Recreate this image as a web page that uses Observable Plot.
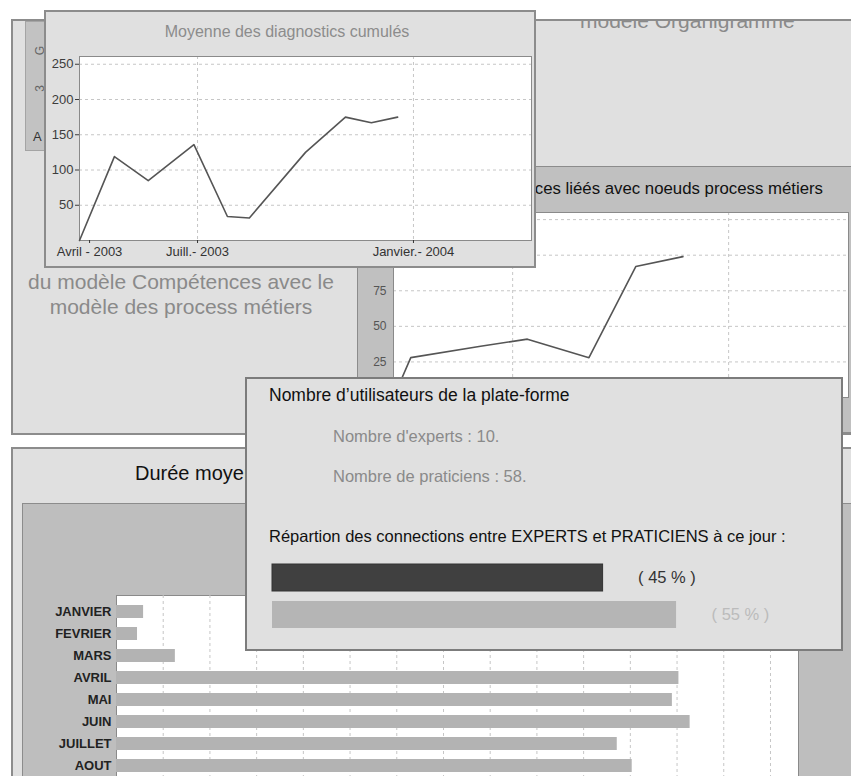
<!DOCTYPE html>
<html><head><meta charset="utf-8">
<script src="https://cdn.jsdelivr.net/npm/d3@7"></script>
<script src="https://cdn.jsdelivr.net/npm/@observablehq/plot@0.6"></script>
<style>
html,body{margin:0;padding:0;background:#fff;}
body{width:851px;height:776px;overflow:hidden;position:relative;font-family:"Liberation Sans",Arial,Helvetica,sans-serif;}
#root{position:absolute;left:0;top:0;width:851px;height:776px;overflow:hidden;}
</style></head><body><div id="root"></div>
<script>
// ---------- DATA ----------
// Moyenne des diagnostics cumulés (x = mois, 4 = avril 2003, 13 = janvier 2004)
const diagMois = [3.72, 4.69, 5.63, 6.90, 7.83, 8.44, 10.0, 11.11, 11.83, 12.56];
const diagMoyenne = [0, 119, 85, 136, 34, 32, 125, 175, 167, 175];
const diagYTicks = [50, 100, 150, 200, 250];
const diagXTicks = [4, 7, 13];
const diagXLabels = ["Avril - 2003", "Juill.- 2003", "Janvier.- 2004"];
const diagXGrid = [7, 13];

// Noeuds Compétences liés avec noeuds process métiers
const noeudsMois = [3.69, 4.17, 6.11, 7.41, 9.12, 10.42, 11.73];
const noeudsValeurs = [0, 28, 36, 41, 28, 92, 99];
const noeudsYGrid = [25, 50, 75, 100, 125];
const noeudsYLabels = [25, 50, 75];
const noeudsXGrid = [7, 13];

// Durée moyenne par mois
const dureeMois = ["JANVIER", "FEVRIER", "MARS", "AVRIL", "MAI", "JUIN", "JUILLET", "AOUT"];
const dureeValeurs = [2.9, 2.25, 6.3, 60.2, 59.5, 61.4, 53.6, 55.2];
const dureeTicks = [5, 10, 15, 20, 25, 30, 35, 40, 45, 50, 55, 60, 65, 70];

// Utilisateurs de la plate-forme
const nbExperts = 10;
const nbPraticiens = 58;
const repartCategories = ["EXPERTS", "PRATICIENS"];
const repartPourcent = [45, 55];

// ---------- HELPERS ----------
const FONT = '"Liberation Sans", Arial, Helvetica, sans-serif';
const root = {el: document.getElementById("root"), ox: 0, oy: 0};

function box(parent, x, y, w, h, o) {
  const el = document.createElement("div");
  const bw = o.bw || 0;
  Object.assign(el.style, {
    position: "absolute", left: (x - parent.ox) + "px", top: (y - parent.oy) + "px",
    width: w + "px", height: h + "px", boxSizing: "border-box",
    background: o.bg || "transparent", border: bw ? `${bw}px solid ${o.bc}` : "none",
    overflow: "hidden"
  });
  parent.el.appendChild(el);
  return {el, ox: x + bw, oy: y + bw};
}
function label(parent, str, x, yc, o) {
  const el = document.createElement("div");
  const size = o.size, lh = Math.round(size * 1.25);
  const s = el.style;
  s.position = "absolute"; s.whiteSpace = "nowrap";
  s.fontSize = size + "px"; s.lineHeight = lh + "px"; s.color = o.color;
  s.fontWeight = o.weight || "normal";
  s.top = (yc - lh / 2 - parent.oy) + "px";
  const anchor = o.anchor || "start";
  if (anchor === "start") { s.left = (x - parent.ox) + "px"; }
  else if (anchor === "end") { s.left = (x - parent.ox - 1000) + "px"; s.width = "1000px"; s.textAlign = "right"; }
  else { s.left = (x - parent.ox - 500) + "px"; s.width = "1000px"; s.textAlign = "center"; }
  if (o.rotate) { s.transform = `rotate(${o.rotate}deg)`; s.transformOrigin = "50% 50%"; }
  el.textContent = str;
  parent.el.appendChild(el);
  return el;
}
function place(parent, svg, x, y) {
  svg.style.position = "absolute";
  svg.style.left = (x - parent.ox) + "px";
  svg.style.top = (y - parent.oy) + "px";
  parent.el.appendChild(svg);
}
const baseStyle = {background: "transparent", fontFamily: FONT, fontSize: "13px", color: "#333", overflow: "visible", maxWidth: "none"};
const dash = {stroke: "#c6c6c6", strokeOpacity: 1, strokeDasharray: "3,3"};

// ---------- WINDOW A (background) ----------
const A = box(root, 11, 19, 900, 416, {bg: "#e0e0e0", bw: 2, bc: "#8c8c8c"});
const Apanel = box(A, 25, 21, 60, 130, {bg: "#c2c2c2", bw: 1, bc: "#a4a4a4"});
label(Apanel, "G", 40, 50, {size: 12, color: "#666", anchor: "middle", rotate: -90});
label(Apanel, "3", 40, 88, {size: 12, color: "#666", anchor: "middle", rotate: -90});
label(Apanel, "A", 33, 137, {size: 13, color: "#333"});
label(A, "modèle Organigramme", 580, 20.5, {size: 21, color: "#8a8a8a"});
label(A, "du modèle Compétences avec le", 181, 282, {size: 21, color: "#8a8a8a", anchor: "middle"});
label(A, "modèle des process métiers", 181, 307, {size: 21, color: "#8a8a8a", anchor: "middle"});

// ---------- WINDOW C (noeuds) ----------
const C = box(root, 357, 166, 520, 267, {bg: "#c0c0c0", bw: 1, bc: "#8c8c8c"});
label(C, "Noeuds Compétences liéés avec noeuds process métiers", 823, 188, {size: 16.8, color: "#111", anchor: "end"});
const noeuds = noeudsMois.map((m, i) => ({m, v: noeudsValeurs[i]}));
const chartC = Plot.plot({
  width: 493, height: 221, marginLeft: 35, marginRight: 3, marginTop: 0, marginBottom: 36,
  x: {domain: [3.69, 16.33], axis: null},
  y: {domain: [0, 130]},
  style: baseStyle,
  marks: [
    Plot.frame({fill: "white", stroke: "none"}),
    Plot.gridY(noeudsYGrid, dash),
    Plot.gridX(noeudsXGrid, dash),
    Plot.frame({stroke: "#8a8a8a"}),
    Plot.axisY(noeudsYLabels, {tickSize: 0, tickPadding: 7, fontSize: 12, color: "#555", label: null}),
    Plot.line(noeuds, {x: "m", y: "v", stroke: "#555", strokeWidth: 1.6})
  ]
});
place(C, chartC, 358, 212);

// ---------- WINDOW B (diagnostics) ----------
const B = box(root, 44, 10, 492, 258, {bg: "#e0e0e0", bw: 2, bc: "#8c8c8c"});
label(B, "Moyenne des diagnostics cumulés", 287, 32, {size: 16, color: "#8c8c8c", anchor: "middle"});
const diag = diagMois.map((m, i) => ({m, v: diagMoyenne[i]}));
const chartB = Plot.plot({
  width: 488, height: 226, marginLeft: 33, marginRight: 3, marginTop: 16, marginBottom: 26,
  x: {domain: [3.72, 16.28]},
  y: {domain: [0, 261]},
  style: baseStyle,
  marks: [
    Plot.frame({fill: "white", stroke: "none"}),
    Plot.gridY(diagYTicks, dash),
    Plot.gridX(diagXGrid, dash),
    Plot.frame({stroke: "#8a8a8a"}),
    Plot.axisY(diagYTicks, {tickSize: 4, tickPadding: 2, fontSize: 13, color: "#3c3c3c", label: null}),
    Plot.axisX(diagXTicks, {tickSize: 3, tickPadding: 3, fontSize: 13, color: "#333", label: null,
      tickFormat: d => diagXLabels[diagXTicks.indexOf(d)]}),
    Plot.line(diag, {x: "m", y: "v", stroke: "#555", strokeWidth: 1.6})
  ]
});
place(B, chartB, 46, 40);

// ---------- WINDOW E (durée) ----------
const E = box(root, 11, 447, 900, 400, {bg: "#e0e0e0", bw: 2, bc: "#8c8c8c"});
label(E, "Durée moyenne des connexions par mois", 135, 473, {size: 20, color: "#111"});
const Einner = box(E, 22, 503, 880, 320, {bg: "#bebebe", bw: 1, bc: "#8c8c8c"});
const duree = dureeMois.map((m, i) => ({m, v: dureeValeurs[i]}));
const chartE = Plot.plot({
  width: 828, height: 190, marginLeft: 93, marginRight: 53, marginTop: 0, marginBottom: 0,
  x: {domain: [0, 73], axis: null},
  y: {type: "band", domain: dureeMois, range: [6, 182], paddingInner: 0.4, paddingOuter: 0.2},
  style: baseStyle,
  marks: [
    Plot.frame({fill: "white", stroke: "#8a8a8a"}),
    Plot.gridX(dureeTicks, dash),
    Plot.barX(duree, {x: "v", y: "m", fill: "#b3b3b3"}),
    Plot.axisY({tickSize: 0, tickPadding: 5, fontSize: 13, fontWeight: "bold", color: "#222", label: null})
  ]
});
place(Einner, chartE, 23, 595);

// ---------- WINDOW D (utilisateurs) ----------
const D = box(root, 245, 377, 598, 274, {bg: "#e0e0e0", bw: 2, bc: "#7c7c7c"});
label(D, "Nombre d’utilisateurs de la plate-forme", 269, 395, {size: 17.5, color: "#111"});
label(D, `Nombre d'experts : ${nbExperts}.`, 333, 436, {size: 16.5, color: "#8a8a8a"});
label(D, `Nombre de praticiens : ${nbPraticiens}.`, 333, 476, {size: 16.5, color: "#8a8a8a"});
label(D, "Répartion des connections entre EXPERTS et PRATICIENS à ce jour :", 269, 536, {size: 16.5, color: "#111"});
const repart = repartCategories.map((c, i) => ({cat: c, pct: repartPourcent[i]}));
const chartD = Plot.plot({
  width: 594, height: 76, margin: 0, marginLeft: 25, marginRight: 18,
  x: {domain: [0, 75], axis: null},
  y: {type: "band", domain: repartCategories, paddingInner: 0.263, paddingOuter: 0.1316, axis: null},
  style: baseStyle,
  marks: [
    Plot.barX(repart, {filter: d => d.cat === "EXPERTS", x: "pct", y: "cat", fill: "#404040", stroke: "#333", strokeWidth: 1}),
    Plot.barX(repart, {filter: d => d.cat === "PRATICIENS", x: "pct", y: "cat", fill: "#b5b5b5"}),
    Plot.text(repart, {filter: d => d.cat === "EXPERTS", x: "pct", y: "cat", text: d => `( ${d.pct} % )`,
      dx: 35, textAnchor: "start", fill: "#333", fontSize: 16.5}),
    Plot.text(repart, {filter: d => d.cat === "PRATICIENS", x: "pct", y: "cat", text: d => `( ${d.pct} % )`,
      dx: 35, textAnchor: "start", fill: "#bbbbbb", fontSize: 16.5})
  ]
});
place(D, chartD, 247, 558);
</script></body></html>
